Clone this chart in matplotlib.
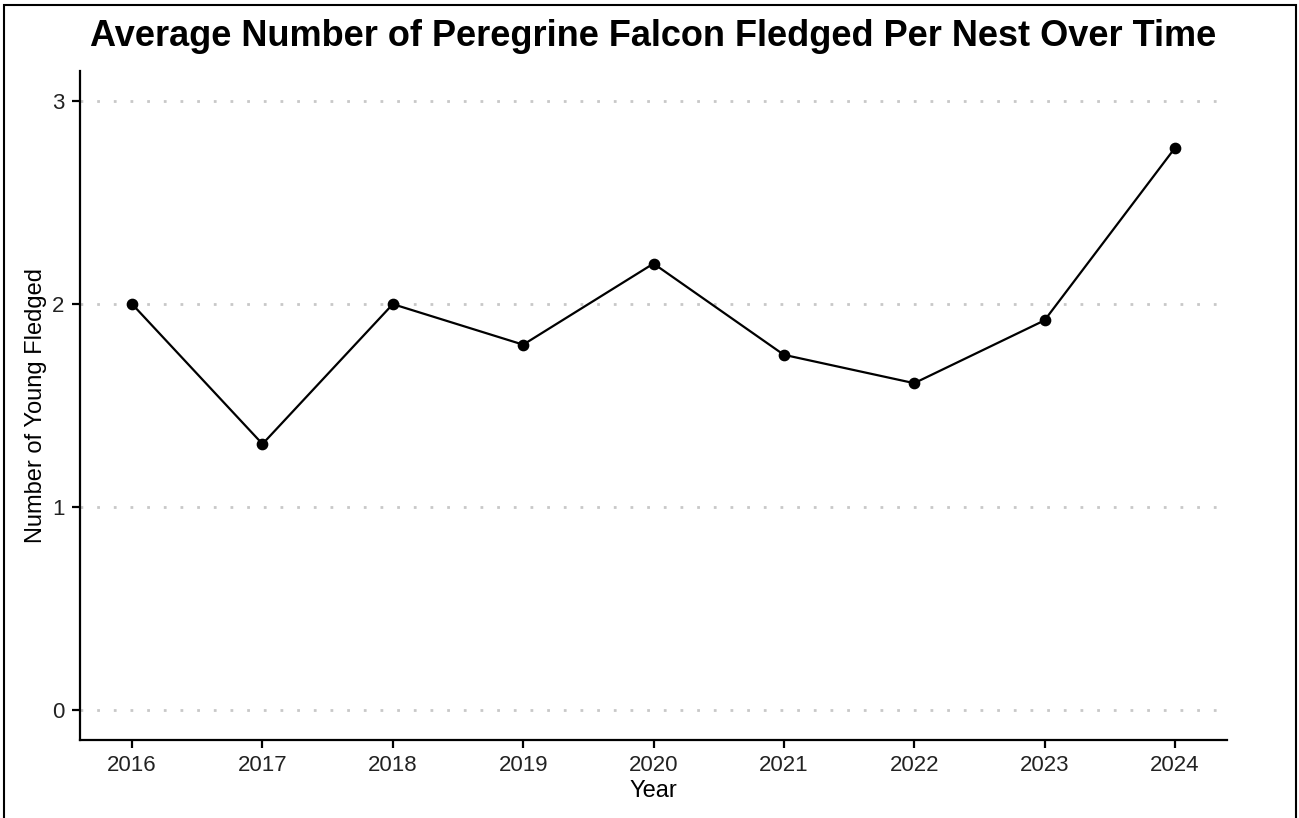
import matplotlib.pyplot as plt
from matplotlib.patches import Rectangle

plt.rcParams['font.family'] = ['Liberation Sans', 'DejaVu Sans']

years = [2016, 2017, 2018, 2019, 2020, 2021, 2022, 2023, 2024]
avg_fledged = [2.0, 1.31, 2.0, 1.8, 2.2, 1.75, 1.61, 1.92, 2.77]
y_ticks = [0, 1, 2, 3]

fig = plt.figure(figsize=(12.99, 8.18), dpi=100)
ax = fig.add_axes([0.0616, 0.0954, 0.8830, 0.8178])

ax.plot(years, avg_fledged, color='black', linewidth=1.6, zorder=3)
ax.scatter(years, avg_fledged, color='black', s=55, zorder=4)

ax.set_xlim(2015.6, 2024.4)
ax.set_ylim(-0.15, 3.15)
ax.set_xticks(years)
ax.set_yticks(y_ticks)

# dotted horizontal grid only
for v in y_ticks:
    ax.axhline(v, color='#c8c8c8', linewidth=2, linestyle=(0, (1, 5)), zorder=1)

for side in ['top', 'right']:
    ax.spines[side].set_visible(False)
for side in ['left', 'bottom']:
    ax.spines[side].set_linewidth(1.6)

ax.tick_params(axis='both', labelsize=16, length=6, width=1.6, color='black',
               labelcolor='#222222', pad=5)
ax.set_xlabel('Year', fontsize=17, labelpad=3)
ax.set_ylabel('Number of Young Fledged', fontsize=17, labelpad=4)
ax.set_title('Average Number of Peregrine Falcon Fledged Per Nest Over Time',
             fontsize=26, fontweight='bold', pad=18)

# thin frame around the image
fig.patches.append(Rectangle((0.003, -0.01), 0.995, 1.004, transform=fig.transFigure,
                             fill=False, edgecolor='black', linewidth=1.5))

fig.savefig('out.png', dpi=100)
